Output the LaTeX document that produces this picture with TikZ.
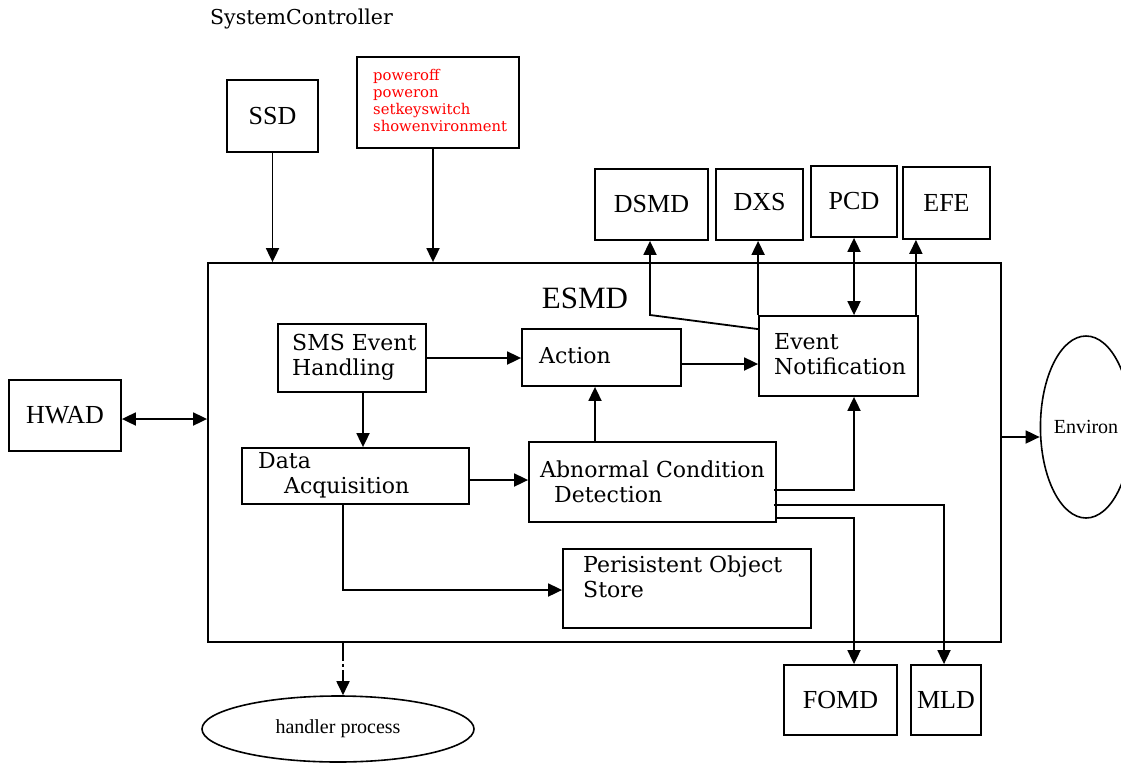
\documentclass[tikz,border=0pt]{standalone}
\usepackage{fontspec}
\setmainfont{Liberation Serif}
\newfontfamily\tms{Liberation Serif}
\newfontfamily\dvs{DejaVu Serif}
\usetikzlibrary{arrows.meta,shapes.geometric}
\begin{document}
\begin{tikzpicture}[x=1pt,y=-1pt,
  box/.style={draw, line width=1.8pt, inner sep=0pt, rectangle, font=\tms\fontsize{26}{28}\selectfont},
  ell/.style={draw, line width=1.6pt, ellipse, inner sep=0pt, font=\tms\fontsize{20}{22}\selectfont},
  lbl/.style={inner sep=0pt, anchor=west, align=left, font=\dvs\fontsize{22}{25}\selectfont},
  arr/.style={line width=1.8pt, -{Triangle[length=14pt,width=13pt]}},
  arrb/.style={line width=1.8pt, {Triangle[length=14pt,width=13pt]}-{Triangle[length=14pt,width=13pt]}}]
\useasboundingbox (0,0) rectangle (1121,763);

% title
\node[lbl, font=\dvs\fontsize{20.5}{24}\selectfont] (sc) at (210,19) {SystemController};

% top inputs
\node[box, minimum width=91pt, minimum height=72pt] (ssd) at (272.5,116) {SSD};
\node[box, minimum width=162pt, minimum height=91pt] (cmd) at (438,102.5) {};
\node[inner sep=0pt, anchor=north west, align=left, text=red,
      font=\dvs\fontsize{14.8}{17}\selectfont] (cmdtxt) at (373,69)
      {poweroff\\poweron\\setkeyswitch\\showenvironment};

% main box
\node[box, minimum width=793pt, minimum height=379pt] (esmd) at (604.5,452.5) {};
\node[inner sep=0pt, font=\tms\fontsize{31}{33}\selectfont] (esmdt) at (585,298) {ESMD};

% top outputs
\node[box, minimum width=113pt, minimum height=71pt] (dsmd) at (651.5,204.5) {DSMD};
\node[box, minimum width=87pt, minimum height=71pt] (dxs) at (759.5,204.5) {\raisebox{5pt}{DXS}};
\node[box, minimum width=86pt, minimum height=71pt] (pcd) at (854,201.5) {\raisebox{2pt}{PCD}};
\node[box, minimum width=87pt, minimum height=72pt] (efe) at (946.5,203) {EFE};

% inner boxes
\node[box, minimum width=159pt, minimum height=80pt] (en) at (838.5,356) {};
\node[lbl] (ent) at (774,354) {Event\\Notification};
\node[box, minimum width=148pt, minimum height=68pt] (sms) at (352,358) {};
\node[lbl] (smst) at (292,357.5) {SMS Event\\Handling};
\node[box, minimum width=159pt, minimum height=57pt] (act) at (601.5,357.5) {};
\node[lbl] (actt) at (539,356) {Action};
\node[box, minimum width=227pt, minimum height=56pt] (da) at (355.5,476) {};
\node[lbl] (dat) at (258,475) {Data\\\hspace*{26pt}Acquisition};
\node[box, minimum width=247pt, minimum height=80pt] (acd) at (652.5,482) {};
\node[lbl] (acdt) at (540,482) {Abnormal Condition\\\hspace*{14pt}Detection};
\node[box, minimum width=248pt, minimum height=79pt] (pos) at (687,588.5) {};
\node[lbl] (post) at (583,577) {Perisistent Object\\Store};

% bottom outputs
\node[box, minimum width=113pt, minimum height=70pt] (fomd) at (840.5,700) {FOMD};
\node[box, minimum width=70pt, minimum height=70pt] (mld) at (946,700) {MLD};

% left / right
\node[box, minimum width=112pt, minimum height=71pt] (hwad) at (65,415.5) {HWAD};
\node[ell, minimum width=72pt, minimum height=182pt] (env) at (1086,427) {Environ};
\node[ell, minimum width=272pt, minimum height=66pt] (hp) at (338,729) {handler process};

% connectors: inputs
\draw[arr] (ssd.south) -- (ssd.south |- esmd.north);
\draw[arr] ([xshift=-5pt]cmd.south) -- ([xshift=-5pt]cmd.south |- esmd.north);

% connectors: event notification to top outputs
\coordinate (bend) at (650,315);
\draw[arr] ([yshift=-14pt]en.north west) -- (bend) -- (bend |- dsmd.south);
\draw[arr] (en.north west) -- (en.north west |- dxs.south);
\draw[arrb] (pcd.south) -- (pcd.south |- en.north);
\draw[arr] ([xshift=-3pt]en.north east) -- ([xshift=-3pt]en.north east |- efe.south);

% inner flows
\draw[arr] (sms.east) -- (sms.east -| act.west);
\draw[arr] ([yshift=-6.5pt]act.east) -- ([yshift=-6.5pt]act.east -| en.west);
\draw[arr] ([xshift=11pt]sms.south) -- ([xshift=11pt]sms.south |- da.north);
\draw[arr] ([yshift=-4pt]da.east) -- ([yshift=-4pt]da.east -| acd.west);
\draw[arr] ([xshift=-57.5pt]acd.north) -- ([xshift=-57.5pt]acd.north |- act.south);
\draw[arr] ([xshift=-12.5pt]da.south) |- ([yshift=-1.5pt]pos.west);
\draw[arr] ([xshift=-3pt,yshift=-8pt]acd.east) -| ([xshift=15.5pt]en.south);
\draw[arr] ([xshift=-3pt,yshift=-23pt]acd.east) -| ([xshift=-2pt]mld.north);
\draw[arr] ([yshift=-36pt]acd.east) -| ([xshift=13.5pt]fomd.north);

% left / right / bottom
\draw[arrb] ([yshift=-3.5pt]hwad.east) -- ([yshift=-3.5pt]hwad.east -| esmd.west);
\draw[arr] ([yshift=15.5pt]esmd.east) -- ([yshift=15.5pt]esmd.east -| env.west);
\draw[arr, dash pattern=on 18pt off 3pt on 3pt off 3pt on 200pt] ([xshift=-261.5pt]esmd.south) -- ([xshift=-261.5pt]esmd.south |- hp.north);
\end{tikzpicture}
\end{document}
